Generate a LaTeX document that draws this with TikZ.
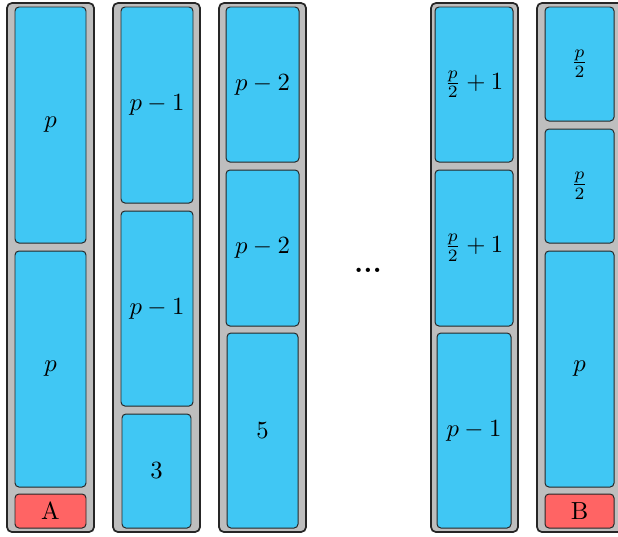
\documentclass[tikz,border=0pt]{standalone}
\usepackage{amsmath}
\definecolor{blu}{RGB}{64,199,244}
\definecolor{rd}{RGB}{255,100,100}
\definecolor{gry}{RGB}{190,190,190}
\tikzset{
  colbox/.style={draw=black!85, fill=gry, line width=0.7pt, rounded corners=2pt},
  blk/.style={draw=black!85, fill=blu, line width=0.4pt, rounded corners=1.6pt},
  rblk/.style={draw=black!85, fill=rd, line width=0.4pt, rounded corners=1.6pt},
  lbl/.style={inner sep=0pt}
}
\begin{document}
\begin{tikzpicture}[x=0.405pt,y=-0.405pt]
\clip (0,0) rectangle (618,536);
\useasboundingbox (0,0) rectangle (618,536);
% column 1
\path[colbox] (7,3) rectangle (94,532);
\path[blk] (15,7) rectangle (86,243) node[midway,lbl] (c1a) {$p$};
\path[blk] (15,251) rectangle (86,487) node[midway,lbl] (c1b) {$p$};
\path[rblk] (15,494) rectangle (86,528) node[midway,lbl] (c1c) {A};
% column 2
\path[colbox] (113,3) rectangle (200,532);
\path[blk] (121,7) rectangle (193,203) node[midway,lbl] (c2a) {$p-1$};
\path[blk] (121,211) rectangle (193,406) node[midway,lbl] (c2b) {$p-1$};
\path[blk] (122,414) rectangle (191,528) node[midway,lbl] (c2c) {$3$};
% column 3
\path[colbox] (219,3) rectangle (306,532);
\path[blk] (226,7) rectangle (299,162) node[midway,lbl] (c3a) {$p-2$};
\path[blk] (226,170) rectangle (299,326) node[midway,lbl] (c3b) {$p-2$};
\path[blk] (227,333) rectangle (298,528) node[midway,lbl] (c3c) {$5$};
% dots
\node[lbl] (dots) at (368,270) {\large\textbf{...}};
% column 5
\path[colbox] (431,3) rectangle (518,532);
\path[blk] (435,7) rectangle (513,162) node[midway,lbl] (c5a) {$\frac{p}{2}+1$};
\path[blk] (435,170) rectangle (513,326) node[midway,lbl] (c5b) {$\frac{p}{2}+1$};
\path[blk] (437,333) rectangle (511,528) node[midway,lbl] (c5c) {$p-1$};
% column 6
\path[colbox] (537,3) rectangle (624,532);
\path[blk] (545,7) rectangle (614,121) node[midway,lbl] (c6a) {$\frac{p}{2}$};
\path[blk] (545,129) rectangle (614,243) node[midway,lbl] (c6b) {$\frac{p}{2}$};
\path[blk] (545,251) rectangle (614,487) node[midway,lbl] (c6c) {$p$};
\path[rblk] (545,494) rectangle (614,528) node[midway,lbl] (c6d) {B};
\end{tikzpicture}
\end{document}
